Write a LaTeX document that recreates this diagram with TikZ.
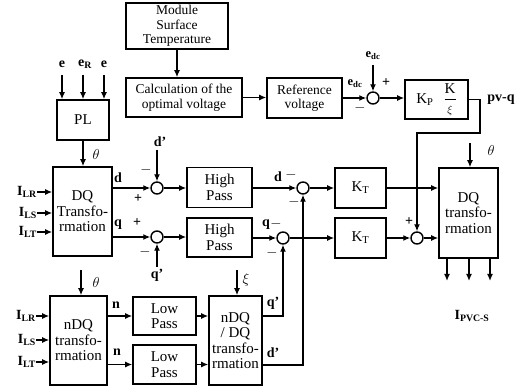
\documentclass[tikz,border=0pt]{standalone}
\usepackage{fontspec}
\setmainfont{Liberation Serif}
\usetikzlibrary{arrows.meta}
\begin{document}
\begin{tikzpicture}[x=1pt,y=-1pt,
  blk/.style={draw,line width=1.6pt,inner sep=0pt,align=center,font=\fontsize{15}{15.5}\selectfont},
  sblk/.style={blk,font=\fontsize{13.5}{14.5}\selectfont},
  sumc/.style={draw,circle,line width=1.4pt,minimum size=12pt,inner sep=0pt},
  arr/.style={line width=1.3pt,-{Latex[length=7pt,width=6pt]}},
  lbl/.style={inner sep=0pt,font=\fontsize{14}{14}\selectfont\bfseries},
  slbl/.style={inner sep=0pt,font=\fontsize{12.5}{12.5}\selectfont\bfseries},
]
\useasboundingbox (0,0) rectangle (523,387);

% ---------- top chain ----------
\node[sblk,minimum width=102pt,minimum height=46pt] (mst) at (177,26) {Module\\Surface\\Temperature};
\node[sblk,minimum width=116pt,minimum height=39pt] (calc) at (184,97.5) {Calculation of the\\optimal voltage};
\node[sblk,minimum width=75pt,minimum height=40pt] (ref) at (304.5,98) {Reference\\voltage};
\node[sumc] (s6) at (373,98) {};
\node[blk,minimum width=63pt,minimum height=39pt] (kp) at (436.5,99.5) {K\textsubscript{P}\hspace{10pt}{$\displaystyle\frac{\mathrm{K}}{\scriptstyle\xi}$}};
\node[lbl] (pvq) at (501,100) {pv-q};

\draw[arr] (mst.south) -- (mst.south |- calc.north);
\draw[arr] (calc.east) -- (calc.east -| ref.west);
\draw[arr] (ref.east |- s6) -- (s6.west);
\coordinate (edcin) at (373,65);
\node[slbl] (edct) at (373,56) {e\textsubscript{dc}};
\draw[arr] (edcin) -- (s6.north);
\node[slbl] (edcl) at (355,84) {e\textsubscript{dc}};
\node[lbl] (s6p) at (386,83) {+};
\node[lbl] (s6m) at (360,108) {$-$};
\draw[arr] (s6.east) -- (s6.east -| kp.west);

% ---------- PL ----------
\node[blk,minimum width=52pt,minimum height=40pt] (pl) at (83,120) {PL};
\node[lbl] (e1) at (62,64) {e};
\node[lbl] (e2) at (85,64) {e\textsubscript{R}};
\node[lbl] (e3) at (104,64) {e};
\coordinate (c1) at (62,75);
\coordinate (c2) at (83,75);
\coordinate (c3) at (104,75);
\draw[arr] (c1) -- (c1 |- pl.north);
\draw[arr] (c2) -- (c2 |- pl.north);
\draw[arr] (c3) -- (c3 |- pl.north);

% ---------- DQ transformation (left) ----------
\node[blk,minimum width=59pt,minimum height=89pt] (dq1) at (82.5,211.5) {DQ\\Transfo-\\rmation};
\draw[arr] (pl.south) -- (pl.south |- dq1.north);
\node[lbl] (th1) at (96,155) {$\theta$};
\node[lbl,anchor=east] (ilr1) at (37,192) {I\textsubscript{LR}};
\node[lbl,anchor=east] (ils1) at (37,213) {I\textsubscript{LS}};
\node[lbl,anchor=east] (ilt1) at (37,232) {I\textsubscript{LT}};
\draw[arr] (ilr1.east) -- (ilr1.east -| dq1.west);
\draw[arr] (ils1.east) -- (ils1.east -| dq1.west);
\draw[arr] (ilt1.east) -- (ilt1.east -| dq1.west);

\node[sumc] (s1) at (157,188) {};
\node[sumc] (s2) at (157,237) {};
\node[blk,minimum width=65pt,minimum height=40pt] (hp1) at (219.5,187.5) {High\\Pass};
\node[blk,minimum width=65pt,minimum height=39pt] (hp2) at (219.5,237.5) {High\\Pass};
\draw[arr] (dq1.east |- s1) -- (s1.west);
\draw[arr] (dq1.east |- s2) -- (s2.west);
\node[lbl] (dl) at (118,178) {d};
\node[lbl] (ql) at (118,225) {q};
\coordinate (dpin) at (157,150);
\node[lbl] (dpl) at (160,142) {d'};
\draw[arr] (dpin) -- (s1.north);
\coordinate (qpin) at (157,267);
\node[lbl] (qpl) at (157,275) {q'};
\draw[arr] (qpin) -- (s2.south);
\node[lbl] (s1m) at (146,170) {$-$};
\node[lbl] (s1p) at (138,199) {+};
\node[lbl] (s2p) at (137,223) {+};
\node[lbl] (s2m) at (145,252) {$-$};
\draw[arr] (s1.east) -- (s1.east -| hp1.west);
\draw[arr] (s2.east) -- (s2.east -| hp2.west);

% ---------- second summing stage ----------
\node[sumc] (s3) at (303,188) {};
\node[sumc] (s4) at (283,238) {};
\draw[arr] (hp1.east |- s3) -- (s3.west);
\draw[arr] (hp2.east |- s4) -- (s4.west);
\node[lbl] (s3d) at (278,177) {d};
\node[lbl] (s3m1) at (291,175) {$-$};
\node[lbl] (s3m2) at (294,202) {$-$};
\node[lbl] (s4q) at (266,225) {q};
\node[lbl] (s4m1) at (276,224) {$-$};
\node[lbl] (s4m2) at (272,253) {$-$};

\node[blk,minimum width=51pt,minimum height=40pt] (kt1) at (360.5,188) {K\textsubscript{T}};
\node[blk,minimum width=51pt,minimum height=40pt] (kt2) at (360.5,238) {K\textsubscript{T}};
\draw[arr] (s3.east) -- (kt1.west);
\draw[arr] (s4.east) -- (kt2.west);

% ---------- DQ transformation (right) ----------
\node[blk,minimum width=59pt,minimum height=90pt] (dq2) at (468.5,213) {DQ\\transfo-\\rmation};
\node[sumc] (s5) at (417,238) {};
\draw[arr] (kt1.east) -- (kt1.east -| dq2.west);
\draw[arr] (kt2.east) -- (s5.west);
\draw[arr] (s5.east) -- (s5.east -| dq2.west);
\node[lbl] (s5p) at (409,222) {+};
\draw[arr] (kp.east) -| (480,133) -| (s5.north);
\coordinate (th2in) at (470,143);
\draw[arr] (th2in) -- (th2in |- dq2.north);
\node[lbl] (th2) at (491,151) {$\theta$};
\coordinate (o1) at (447,281);
\coordinate (o2) at (469,281);
\coordinate (o3) at (490,281);
\draw[arr] (o1 |- dq2.south) -- (o1);
\draw[arr] (o2 |- dq2.south) -- (o2);
\draw[arr] (o3 |- dq2.south) -- (o3);
\node[lbl] (ipvc) at (472,316) {I\textsubscript{PVC-S}};

% ---------- lower part ----------
\node[blk,minimum width=57pt,minimum height=89pt] (ndq) at (78.5,340.5) {nDQ\\transfo-\\rmation};
\coordinate (th3in) at (81,270);
\draw[arr] (th3in) -- (th3in |- ndq.north);
\node[lbl] (th3) at (96,283) {$\theta$};
\node[lbl,anchor=east] (ilr2) at (36,316) {I\textsubscript{LR}};
\node[lbl,anchor=east] (ils2) at (36,340) {I\textsubscript{LS}};
\node[lbl,anchor=east] (ilt2) at (36,362) {I\textsubscript{LT}};
\draw[arr] (ilr2.east) -- (ilr2.east -| ndq.west);
\draw[arr] (ils2.east) -- (ils2.east -| ndq.west);
\draw[arr] (ilt2.east) -- (ilt2.east -| ndq.west);

\node[blk,minimum width=63pt,minimum height=38pt] (lp1) at (164.5,316) {Low\\Pass};
\node[blk,minimum width=63pt,minimum height=39pt] (lp2) at (164.5,364.5) {Low\\Pass};
\draw[arr] (ndq.east |- lp1) -- (lp1.west);
\draw[arr] (ndq.east |- lp2) -- (lp2.west);
\node[lbl] (n1) at (116,305) {n};
\node[lbl] (n2) at (117,352) {n};

\node[blk,minimum width=53pt,minimum height=89pt] (ndqdq) at (235.5,340.5) {nDQ\\/ DQ\\transfo-\\rmation};
\draw[arr] (lp1.east) -- (lp1.east -| ndqdq.west);
\draw[arr] (lp2.east) -- (lp2.east -| ndqdq.west);
\coordinate (xiin) at (237,270);
\draw[arr] (xiin) -- (xiin |- ndqdq.north);
\node[lbl] (xil) at (246,280) {$\xi$};

\coordinate (qpo) at (262,316);
\coordinate (dpo) at (262,365);
\draw[arr] (qpo) -| (s4.south);
\draw[arr] (dpo) -| (s3.south);
\node[lbl] (qpo2) at (273,303) {q'};
\node[lbl] (dpo2) at (273,353) {d'};
\end{tikzpicture}
\end{document}
